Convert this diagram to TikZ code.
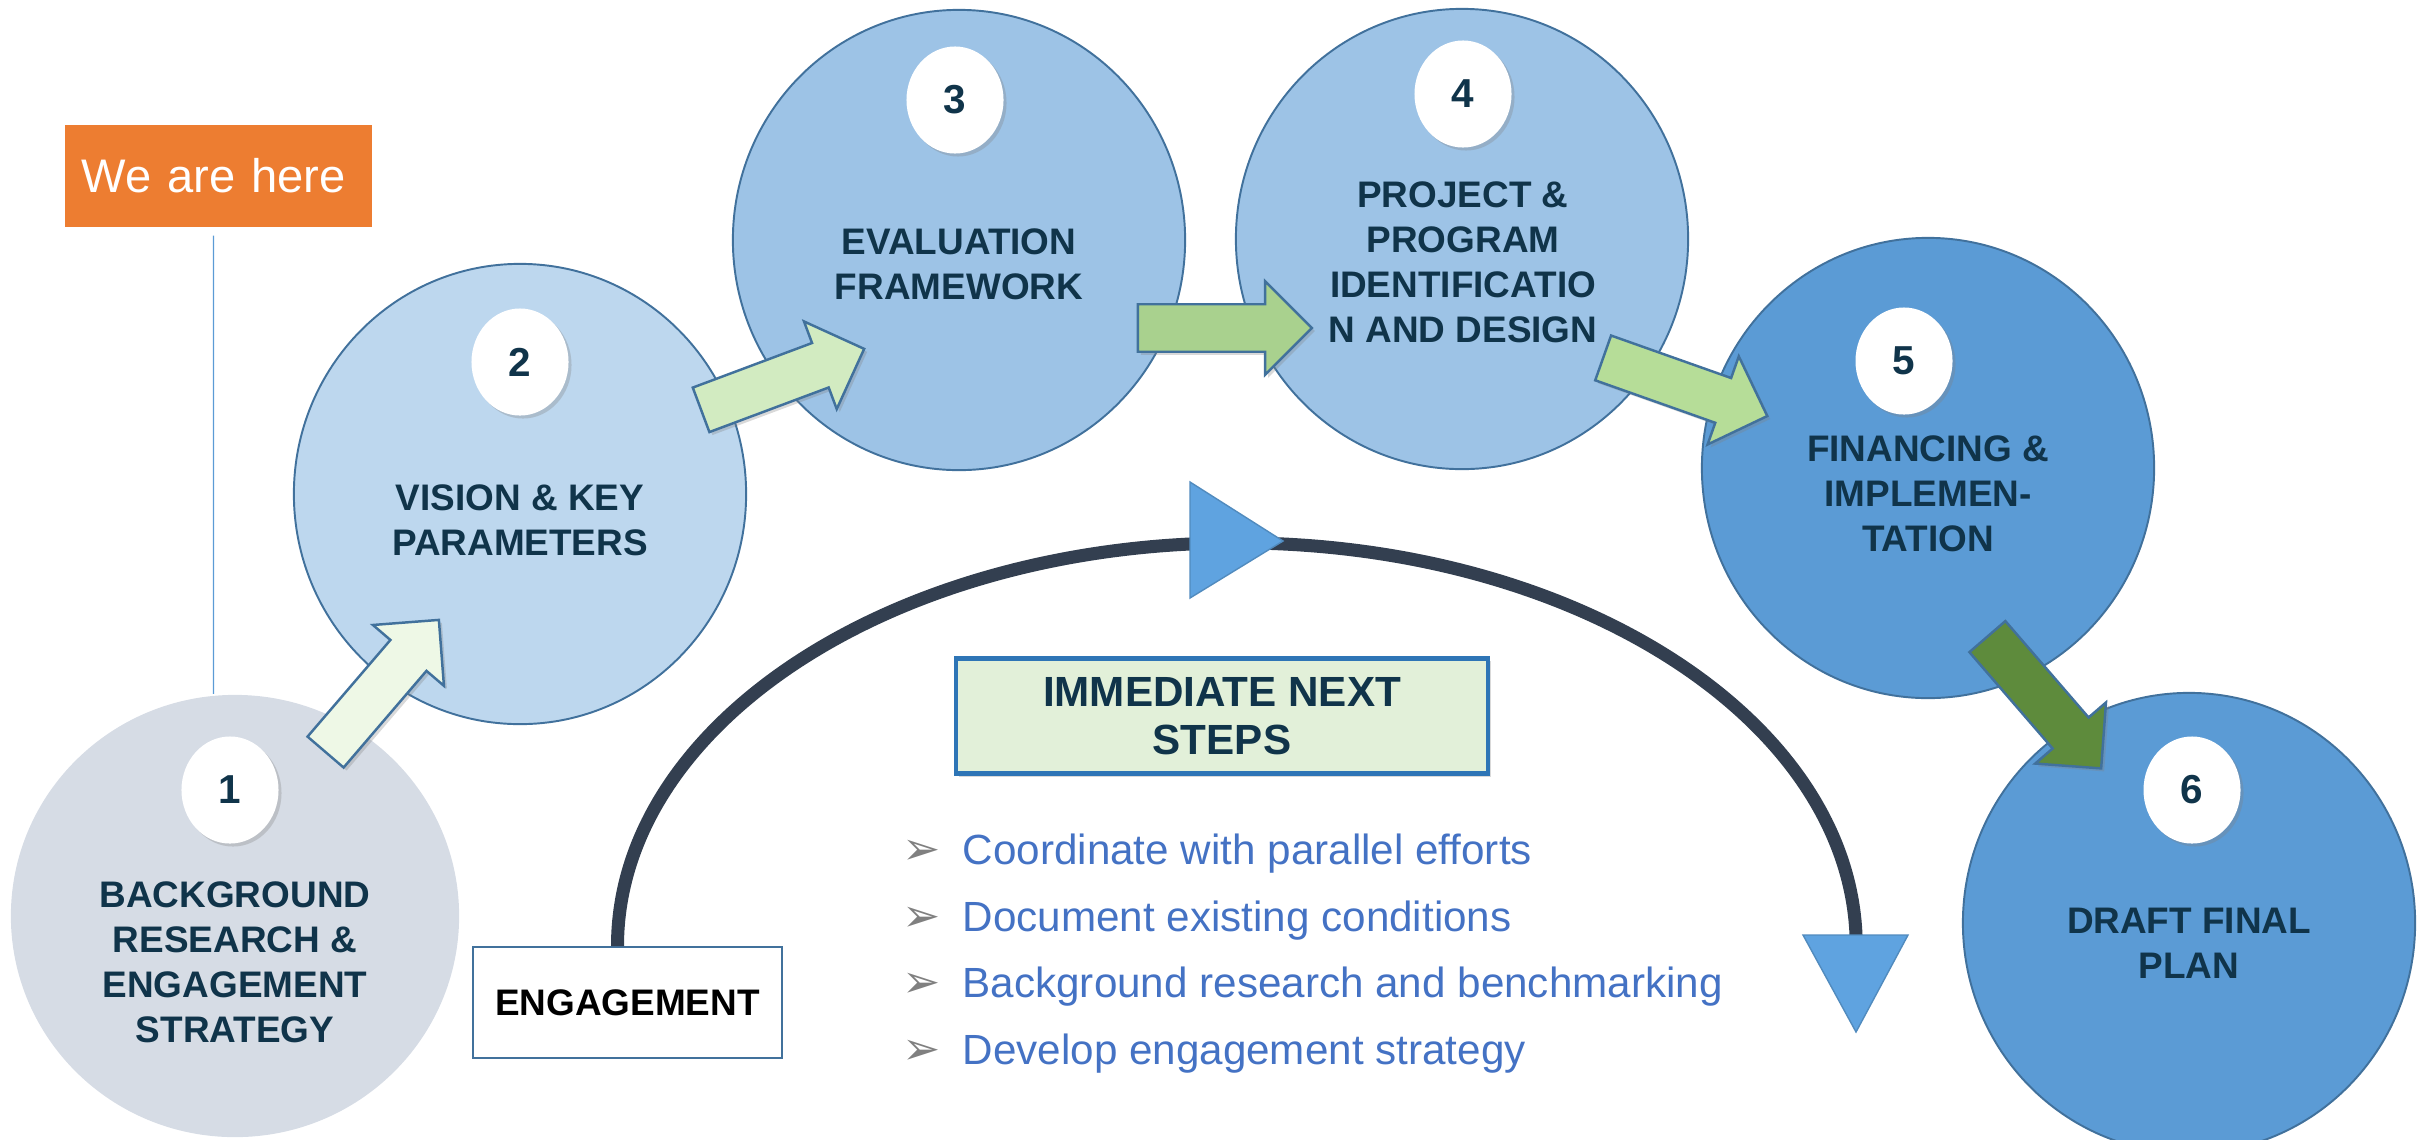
\documentclass[tikz,border=0pt]{standalone}
\usepackage{fontspec}
\setmainfont{Liberation Sans}
\newfontfamily\symfont{DejaVu Sans}
\usetikzlibrary{positioning,shapes.geometric,shapes.arrows,shadows}

\definecolor{edgeblue}{RGB}{65,113,156}
\definecolor{navytext}{RGB}{16,52,74}
\definecolor{greyfill}{RGB}{214,220,229}
\definecolor{paleblue}{RGB}{189,215,238}
\definecolor{midblue}{RGB}{157,195,230}
\definecolor{deepblue}{RGB}{91,155,213}
\definecolor{herebg}{RGB}{237,125,49}
\definecolor{herelinecol}{RGB}{91,155,213}
\definecolor{arcdark}{RGB}{51,63,80}
\definecolor{tipblue}{RGB}{95,163,224}
\definecolor{stepsbg}{RGB}{226,240,217}
\definecolor{stepsedge}{RGB}{46,117,182}
\definecolor{listblue}{RGB}{68,114,196}
\definecolor{gpale}{RGB}{238,248,230}
\definecolor{glight}{RGB}{210,235,193}
\definecolor{gmid}{RGB}{169,209,142}
\definecolor{gsoft}{RGB}{182,221,152}
\definecolor{gdark}{RGB}{94,139,60}

\tikzset{
  stage/.style={ellipse, draw=edgeblue, line width=0.55pt, minimum width=4.52cm, minimum height=4.6cm, inner sep=0pt},
  badge/.style={ellipse, fill=white, minimum width=0.97cm, minimum height=1.07cm, inner sep=0pt,
    font=\fontsize{11.5}{12}\selectfont\bfseries, text=navytext,
    drop shadow={opacity=0.3, shadow xshift=0.03cm, shadow yshift=-0.03cm}},
  stagetext/.style={align=center, inner sep=0pt, font=\fontsize{10.5}{12.8}\selectfont\bfseries, text=navytext},
  flow/.style={single arrow, draw=edgeblue, line width=0.7pt, minimum height=1.74cm, inner xsep=0pt,
    inner ysep=0.225cm, single arrow head extend=0.23cm,
    drop shadow={opacity=0.3, shadow xshift=0.03cm, shadow yshift=-0.03cm}},
  herebox/.style={fill=herebg, text=white, minimum width=3.07cm, minimum height=1.02cm, text width=2.73cm,
    align=left, inner xsep=0.17cm, font=\fontsize{13.4}{16}\selectfont},
  engbox/.style={draw=edgeblue, fill=white, line width=0.5pt, minimum width=3.09cm, minimum height=1.11cm,
    font=\fontsize{10.5}{12}\selectfont\bfseries},
  stepsbox/.style={draw=stepsedge, fill=stepsbg, line width=1.2pt, minimum width=5.32cm, minimum height=1.15cm,
    align=center, font=\fontsize{12}{13.7}\selectfont\bfseries, text=navytext,
    drop shadow={opacity=0.3, shadow xshift=0.03cm, shadow yshift=-0.03cm}},
  stepitem/.style={anchor=base west, inner sep=0pt, text=listblue, font=\fontsize{12}{14}\selectfont},
  bulletmark/.style={anchor=base west, inner sep=0pt, text=black!50, font=\symfont\fontsize{13}{13}\selectfont},
  engline/.style={draw=arcdark, line width=3.7pt},
  tipmark/.style={fill=tipblue, draw=tipblue!85!black, line width=0.4pt}
}

\begin{document}
\begin{tikzpicture}[x=0.01cm,y=-0.01cm]
\useasboundingbox (0,0) rectangle (2422,1139);

% stages
\node[stage, draw=none, fill=greyfill, minimum width=4.48cm, minimum height=4.42cm] (s1) at (235,916) {};
\node[stage, fill=paleblue] (s2) at (520,494) {};
\node[stage, fill=midblue] (s3) at (959,240) {};
\node[stage, fill=midblue] (s4) at (1462,239) {};
\node[stage, fill=deepblue] (s5) at (1928,468) {};
\node[stage, fill=deepblue] (s6) at (2189,923) {};

\node[stagetext] (t1) at (235,962) {BACKGROUND\\RESEARCH \&\\ENGAGEMENT\\STRATEGY};
\node[stagetext] (t2) at (520,520) {VISION \& KEY\\PARAMETERS};
\node[stagetext] (t3) at (959,264) {EVALUATION\\FRAMEWORK};
\node[stagetext] (t4) at (1463,262) {PROJECT \&\\PROGRAM\\IDENTIFICATIO\\N AND DESIGN};
\node[stagetext] (t5) at (1928,494) {FINANCING \&\\IMPLEMEN-\\TATION};
\node[stagetext] (t6) at (2189,943) {DRAFT FINAL\\PLAN};

\node[badge] (b1) at (230,790) {1};
\node[badge] (b2) at (520,362) {2};
\node[badge] (b3) at (955,100) {3};
\node[badge] (b4) at (1463,94) {4};
\node[badge] (b5) at (1904,361) {5};
\node[badge] (b6) at (2192,790) {6};

% we are here
\node[herebox] (here) at (218.5,176) {We are here};
\draw[herelinecol, line width=0.4pt] ([shift={(-5,8)}]here.south) -- ([xshift=-0.05cm]here.south |- s1.north);

% engagement loop
\node[engbox] (engage) at (627.5,1002.5) {ENGAGEMENT};
\draw[engline] ([xshift=-0.1cm]engage.north) arc[start angle=180, end angle=0, x radius=6.19cm, y radius=4.03cm];
\draw[tipmark] (1190,482) -- (1283,541) -- (1190,598) -- cycle;
\draw[tipmark] (1803,935) -- (1908,935) -- (1856,1032) -- cycle;

\node[stepsbox] (steps) at (1222,716) {IMMEDIATE NEXT\\STEPS};

\node[bulletmark] (m1) at (902,864) {➢};
\node[stepitem] (i1) at (962,864) {Coordinate with parallel efforts};
\node[bulletmark] (m2) at (902,931) {➢};
\node[stepitem] (i2) at (962,931) {Document existing conditions};
\node[bulletmark] (m3) at (902,997) {➢};
\node[stepitem] (i3) at (962,997) {Background research and benchmarking};
\node[bulletmark] (m4) at (902,1064) {➢};
\node[stepitem] (i4) at (962,1064) {Develop engagement strategy};

% block arrows
\node[flow, fill=gpale, rotate=49.4] (a12) at (374.5,695) {};
\node[flow, fill=glight, rotate=20.5] (a23) at (771.5,383.5) {};
\node[flow, fill=gmid] (a34) at (1213,328) {};
\node[flow, fill=gsoft, rotate=-19.5] (a45) at (1674,383) {};
\node[flow, fill=gdark, rotate=-49.2] (a56) at (2036.5,693.5) {};
\end{tikzpicture}
\end{document}
